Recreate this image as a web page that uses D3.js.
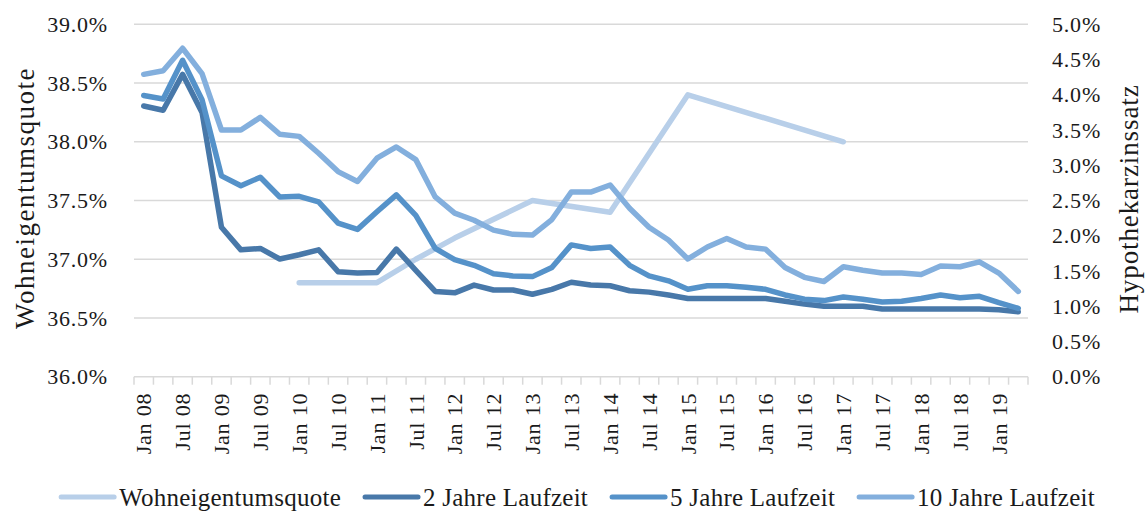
<!DOCTYPE html>
<html>
<head>
<meta charset="utf-8">
<script src="https://cdn.jsdelivr.net/npm/d3@7"></script>
<style>
  html, body { margin: 0; padding: 0; background: #fff; }
  svg text { font-family: "Liberation Serif", "DejaVu Serif", serif; fill: #1a1a1a; }
</style>
</head>
<body>
<svg id="chart" width="1145" height="511"></svg>
<script>
// quarterly categories, Jan 08 .. Apr 19
var categories = [
  "Jan 08","Apr 08","Jul 08","Okt 08","Jan 09","Apr 09","Jul 09","Okt 09",
  "Jan 10","Apr 10","Jul 10","Okt 10","Jan 11","Apr 11","Jul 11","Okt 11",
  "Jan 12","Apr 12","Jul 12","Okt 12","Jan 13","Apr 13","Jul 13","Okt 13",
  "Jan 14","Apr 14","Jul 14","Okt 14","Jan 15","Apr 15","Jul 15","Okt 15",
  "Jan 16","Apr 16","Jul 16","Okt 16","Jan 17","Apr 17","Jul 17","Okt 17",
  "Jan 18","Apr 18","Jul 18","Okt 18","Jan 19","Apr 19"
];
var labelCategories = categories.filter(function (c) { return c.startsWith("Jan") || c.startsWith("Jul"); });

// left axis (%), only a few observations
var wohneigentumsquote = [
  null, null, null, null, null, null, null, null,
  36.80, null, null, null, 36.80, null, 37.00, null,
  37.18, null, null, null, 37.50, null, null, null,
  37.40, null, null, null, 38.40, null, null, null,
  null, null, null, null, 38.00, null, null, null,
  null, null, null, null, null, null
];

// right axis (%)
var zins2 = [
  3.84, 3.78, 4.29, 3.75, 2.12, 1.80, 1.82, 1.67,
  1.73, 1.80, 1.49, 1.47, 1.48, 1.81, 1.51, 1.21,
  1.19, 1.30, 1.23, 1.23, 1.17, 1.24, 1.34, 1.30,
  1.29, 1.22, 1.20, 1.16, 1.11, 1.11, 1.11, 1.11,
  1.11, 1.07, 1.03, 1.00, 1.00, 1.00, 0.96, 0.96,
  0.96, 0.96, 0.96, 0.96, 0.95, 0.92
];
var zins5 = [
  3.99, 3.94, 4.49, 3.93, 2.85, 2.71, 2.83, 2.55,
  2.56, 2.48, 2.18, 2.09, 2.34, 2.58, 2.29, 1.82,
  1.66, 1.58, 1.46, 1.43, 1.42, 1.55, 1.87, 1.82,
  1.84, 1.58, 1.43, 1.36, 1.24, 1.29, 1.29, 1.27,
  1.24, 1.16, 1.10, 1.08, 1.13, 1.10, 1.06, 1.07,
  1.11, 1.16, 1.12, 1.14, 1.05, 0.97
];
var zins10 = [
  4.29, 4.34, 4.66, 4.30, 3.50, 3.50, 3.68, 3.44,
  3.41, 3.17, 2.91, 2.77, 3.10, 3.26, 3.08, 2.55,
  2.32, 2.22, 2.08, 2.02, 2.01, 2.23, 2.62, 2.62,
  2.72, 2.39, 2.12, 1.94, 1.67, 1.84, 1.96, 1.84,
  1.81, 1.55, 1.41, 1.35, 1.56, 1.51, 1.47, 1.47,
  1.45, 1.57, 1.56, 1.63, 1.47, 1.21
];

var leftTicks = [36.0, 36.5, 37.0, 37.5, 38.0, 38.5, 39.0];
var rightTicks = [0.0, 0.5, 1.0, 1.5, 2.0, 2.5, 3.0, 3.5, 4.0, 4.5, 5.0];

var seriesNames = ["Wohneigentumsquote", "2 Jahre Laufzeit", "5 Jahre Laufzeit", "10 Jahre Laufzeit"];
var seriesColors = ["#b8cfe9", "#4878a9", "#5592c9", "#83afdd"];

var svg = d3.select("#chart");
var plotLeft = 134, plotRight = 1028, plotTop = 24.3, plotBottom = 376.7;

var x = d3.scaleBand().domain(categories).range([plotLeft, plotRight]).padding(0);
var yL = d3.scaleLinear().domain([36, 39]).range([plotBottom, plotTop]);
var yR = d3.scaleLinear().domain([0, 5]).range([plotBottom, plotTop]);
var cx = function (c) { return x(c) + x.bandwidth() / 2; };
var pct = function (d) { return d.toFixed(1) + "%"; };

// gridlines
svg.append("g")
  .selectAll("line")
  .data(leftTicks.slice(1))
  .join("line")
  .attr("x1", plotLeft).attr("x2", plotRight)
  .attr("y1", d => yL(d)).attr("y2", d => yL(d))
  .style("stroke", "#d9d9d9").style("stroke-width", 1.5);

// x axis line and tick marks between categories
svg.append("line")
  .attr("x1", plotLeft).attr("x2", plotRight)
  .attr("y1", plotBottom).attr("y2", plotBottom)
  .style("stroke", "#d9d9d9").style("stroke-width", 1.5);
svg.append("g")
  .selectAll("line")
  .data(d3.range(categories.length + 1))
  .join("line")
  .attr("x1", i => plotLeft + i * x.step()).attr("x2", i => plotLeft + i * x.step())
  .attr("y1", plotBottom).attr("y2", plotBottom + 8)
  .style("stroke", "#d9d9d9").style("stroke-width", 1.5);

var xAxis = svg.append("g")
  .attr("transform", "translate(0," + plotBottom + ")")
  .call(d3.axisBottom(x).tickValues(labelCategories).tickSize(0));
xAxis.select(".domain").remove();
xAxis.selectAll("text")
  .attr("transform", "rotate(-90)")
  .attr("text-anchor", "end")
  .attr("x", -16).attr("y", 0).attr("dy", "0.35em")
  .style("font-size", "22px").style("letter-spacing", "0.8px");

// left axis
var yAxisL = svg.append("g")
  .attr("transform", "translate(" + plotLeft + ",0)")
  .call(d3.axisLeft(yL).tickValues(leftTicks).tickFormat(pct).tickSize(0).tickPadding(26));
yAxisL.select(".domain").remove();
yAxisL.selectAll("text").style("font-size", "22px").style("letter-spacing", "0.8px");

// right axis
var yAxisR = svg.append("g")
  .attr("transform", "translate(" + plotRight + ",0)")
  .call(d3.axisRight(yR).tickValues(rightTicks).tickFormat(pct).tickSize(0).tickPadding(24));
yAxisR.select(".domain").remove();
yAxisR.selectAll("text").style("font-size", "22px").style("letter-spacing", "0.8px");

// axis titles
svg.append("text")
  .attr("transform", "translate(25,198) rotate(-90)")
  .attr("text-anchor", "middle").attr("dy", "0.35em")
  .style("font-size", "27px").style("letter-spacing", "1.5px")
  .text("Wohneigentumsquote");
svg.append("text")
  .attr("transform", "translate(1129,199) rotate(-90)")
  .attr("text-anchor", "middle").attr("dy", "0.35em")
  .style("font-size", "27px").style("letter-spacing", "0.9px")
  .text("Hypothekarzinssatz");

// lines
function drawLine(values, scale, color) {
  var pts = categories.map((c, i) => ({ c: c, v: values[i] })).filter(d => d.v != null);
  var line = d3.line().x(d => cx(d.c)).y(d => scale(d.v));
  svg.append("path")
    .datum(pts)
    .attr("d", line)
    .style("fill", "none")
    .style("stroke", color)
    .style("stroke-width", 5.5)
    .style("stroke-linejoin", "round")
    .style("stroke-linecap", "round");
}
drawLine(wohneigentumsquote, yL, seriesColors[0]);
drawLine(zins2, yR, seriesColors[1]);
drawLine(zins5, yR, seriesColors[2]);
drawLine(zins10, yR, seriesColors[3]);

// legend
var legend = svg.append("g");
var lx = 0;
seriesNames.forEach(function (name, i) {
  var item = legend.append("g").attr("transform", "translate(" + lx + ",0)");
  item.append("line")
    .attr("x1", 0).attr("x2", 53).attr("y1", 0).attr("y2", 0)
    .style("stroke", seriesColors[i]).style("stroke-width", 5)
    .style("stroke-linecap", "round");
  var t = item.append("text")
    .attr("x", 58).attr("dy", "0.35em")
    .style("font-size", "25px").style("letter-spacing", "0.25px")
    .text(name);
  lx += 58 + t.node().getComputedTextLength() + 24;
});
lx -= 24;
legend.attr("transform", "translate(" + (578 - lx / 2) + ",497)");
</script>
</body>
</html>
